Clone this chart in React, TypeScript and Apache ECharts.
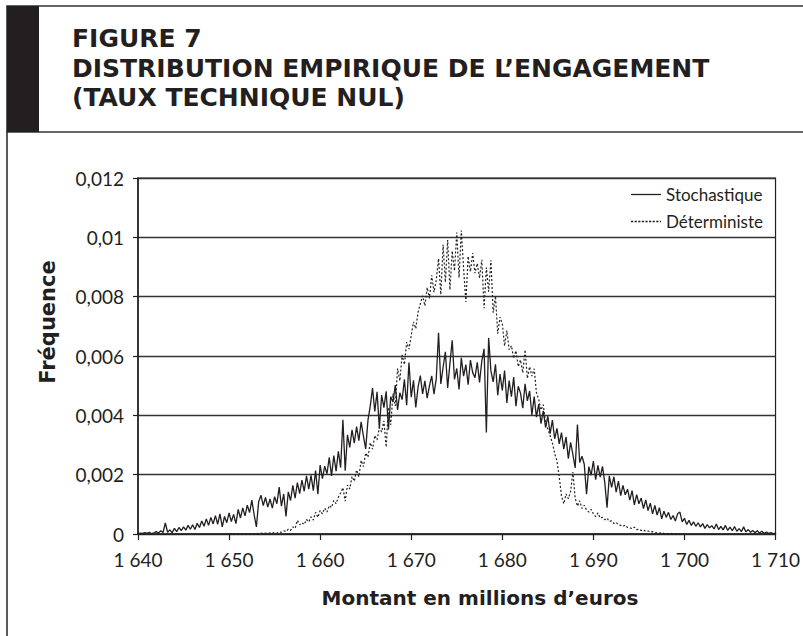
import React, { useEffect, useRef } from "react";
import * as echarts from "echarts";

const TITLE_LINES = [
  "FIGURE 7",
  "DISTRIBUTION EMPIRIQUE DE L’ENGAGEMENT",
  "(TAUX TECHNIQUE NUL)",
];
const X_NAME = "Montant en millions d’euros";
const Y_NAME = "Fréquence";
const SERIES_NAMES = ["Stochastique", "Déterministe"];

const X_MIN = 1640;
const X_MAX = 1710;
const X_INTERVAL = 10;
const Y_MIN = 0;
const Y_MAX = 0.012;
const Y_INTERVAL = 0.002;

// Stochastique : x = 1640, 1640.25, ... 1710
const STOCH_START = 1640;
const STOCH_STEP = 0.25;
const stochastique = [
  0.00001, 0.00003, 0.00002, 0.00005,
  0.00002, 0.00006, 0.00001, 0.00004,
  0.00008, 0.00003, 0.00011, 0.00005,
  0.00037, 0.00006, 0.00014, 0.00004,
  0.00019, 0.00008, 0.00022, 0.00011,
  0.00024, 0.00013, 0.00029, 0.00016,
  0.00031, 0.00015, 0.00036, 0.00022,
  0.00044, 0.00026, 0.00051, 0.00029,
  0.00056, 0.00034, 0.00062, 0.00033,
  0.00068, 0.00024, 0.00059, 0.00038,
  0.00071, 0.00042, 0.00066, 0.00035,
  0.00083, 0.00054, 0.00088, 0.00061,
  0.00097, 0.00072, 0.00114, 0.00065,
  0.00024, 0.00109, 0.00131, 0.00096,
  0.00123, 0.00091, 0.00118, 0.00087,
  0.00126, 0.00102, 0.00158, 0.00094,
  0.00135, 0.00059, 0.00142, 0.00113,
  0.00164, 0.00121, 0.00173, 0.00136,
  0.00182, 0.00144, 0.00196, 0.00151,
  0.00198, 0.00146, 0.00214, 0.00134,
  0.00232, 0.00187, 0.00229, 0.00203,
  0.00258, 0.00196, 0.00264, 0.00212,
  0.00279, 0.00224, 0.00385, 0.00213,
  0.00334, 0.00292, 0.00351, 0.00306,
  0.00362, 0.00315, 0.00378, 0.0033,
  0.00287, 0.00384, 0.00431, 0.00492,
  0.00413, 0.00479, 0.00356, 0.00468,
  0.00426, 0.00481, 0.00352, 0.00463,
  0.00445, 0.00502, 0.00418, 0.00476,
  0.00453, 0.00521, 0.00434, 0.00578,
  0.00461, 0.00518, 0.00427, 0.00495,
  0.00534, 0.00472, 0.00516, 0.00458,
  0.00499, 0.00533, 0.00471, 0.00524,
  0.00678, 0.00506, 0.00562, 0.00614,
  0.00492, 0.00575, 0.00653, 0.00521,
  0.00558, 0.00487, 0.00594, 0.00532,
  0.00571, 0.00503, 0.00586, 0.00544,
  0.00527, 0.00579, 0.00511, 0.00583,
  0.00624, 0.00342, 0.00661, 0.0055,
  0.00513, 0.00572, 0.00468, 0.00539,
  0.00484, 0.00551, 0.00442, 0.00517,
  0.00463, 0.00529, 0.00431, 0.00498,
  0.00475, 0.00424, 0.00506, 0.00449,
  0.00482, 0.00401, 0.00463, 0.00394,
  0.00438, 0.00372, 0.00415, 0.00359,
  0.00397, 0.00338, 0.00384, 0.00321,
  0.00356, 0.00304, 0.00342, 0.00286,
  0.00327, 0.00254, 0.00309, 0.00268,
  0.00223, 0.00369, 0.00241, 0.00262,
  0.00235, 0.00134, 0.00227, 0.00198,
  0.00246, 0.00183, 0.00231, 0.00192,
  0.00228, 0.00174, 0.00089, 0.00196,
  0.00157, 0.00193, 0.00141, 0.00178,
  0.00129, 0.00164, 0.00132, 0.00151,
  0.00114, 0.00146, 0.00098, 0.00133,
  0.00102, 0.00121, 0.00086, 0.00115,
  0.00079, 0.00104, 0.00068, 0.00096,
  0.00064, 0.00089, 0.00051, 0.00077,
  0.00056, 0.00073, 0.00049, 0.00062,
  0.00044, 0.00068, 0.00074, 0.00041,
  0.00053, 0.00032, 0.00046, 0.00029,
  0.00041, 0.00026, 0.00038, 0.00024,
  0.00035, 0.00019, 0.00032, 0.00021,
  0.00028, 0.00017, 0.00034, 0.00015,
  0.00026, 0.00014, 0.00029, 0.00012,
  0.00023, 0.00011, 0.00025, 0.00009,
  0.00018, 0.00008, 0.00024, 0.00007,
  0.00015, 0.00006, 0.00012, 0.00004,
  0.00011, 0.00003, 0.00009, 0.00002,
  0.00007, 0.00002, 0.00005, 0.00001,
  0.00003,
];

// Déterministe : x = 1650, 1650.25, ... 1700
const DET_START = 1650;
const DET_STEP = 0.25;
const deterministe = [
  0, 0, 0.00001, 0,
  0, 0.00001, 0, 0.00001,
  0.00001, 0, 0.00002, 0.00001,
  0.00002, 0.00001, 0.00003, 0.00001,
  0.00003, 0.00002, 0.00004, 0.00003,
  0.00005, 0.00003, 0.00007, 0.00006,
  0.00011, 0.00008, 0.00016, 0.00012,
  0.00024, 0.00019, 0.00046, 0.00031,
  0.00038, 0.00032, 0.00049, 0.00041,
  0.00058, 0.00047, 0.00073, 0.00056,
  0.00079, 0.00068, 0.00087, 0.00074,
  0.00096, 0.00089, 0.00113, 0.00102,
  0.00124, 0.00138, 0.00156, 0.00111,
  0.00165, 0.00152, 0.00194, 0.00178,
  0.00216, 0.00193, 0.00248, 0.00227,
  0.00273, 0.00259, 0.00308, 0.00286,
  0.00332, 0.00317, 0.00359, 0.00344,
  0.00381, 0.00293, 0.00427, 0.00368,
  0.00473, 0.00432, 0.00558, 0.00516,
  0.00604, 0.00571, 0.00647, 0.00623,
  0.00669, 0.00715, 0.00692, 0.00748,
  0.00776, 0.00803, 0.00769, 0.00831,
  0.00794, 0.00872, 0.00815, 0.00856,
  0.00928, 0.00807, 0.00976, 0.00849,
  0.00991, 0.00823, 0.00954, 0.00887,
  0.01016, 0.00864, 0.01023, 0.00895,
  0.00782, 0.00936, 0.00884, 0.00947,
  0.00879, 0.00912, 0.00863, 0.00924,
  0.00761, 0.00898, 0.00817, 0.00923,
  0.00746, 0.00802, 0.00675, 0.00731,
  0.00708, 0.00634, 0.00686, 0.00621,
  0.00635, 0.00592, 0.00618, 0.00564,
  0.00587, 0.00543, 0.00621, 0.00525,
  0.00564, 0.00532, 0.00557, 0.00476,
  0.00453, 0.00418, 0.00436, 0.00372,
  0.00354, 0.00331, 0.00307, 0.00272,
  0.00246, 0.00193, 0.00128, 0.00102,
  0.00135, 0.00119, 0.00143, 0.00209,
  0.00121, 0.00094, 0.00112, 0.00086,
  0.00097, 0.00081, 0.00074, 0.00083,
  0.00068, 0.00059, 0.00071, 0.00054,
  0.00056, 0.00048, 0.00053, 0.00042,
  0.00044, 0.00036, 0.00039, 0.00031,
  0.00029, 0.00026, 0.0003, 0.00022,
  0.00021, 0.00018, 0.00023, 0.00015,
  0.00016, 0.00012, 0.00014, 0.00009,
  0.0001, 0.00007, 0.00008, 0.00005,
  0.00004, 0.00003, 0.00004, 0.00002,
  0.00001, 0.00001, 0.00002, 0,
  0, 0.00001, 0, 0,
  0,
];

const INK = "#231f20";
const REG = "Lato, 'Noto Sans', sans-serif";
const BOLD = "'DejaVu Sans', 'Noto Sans', sans-serif";

// legend samples: a thin solid bar and a row of short dashes
const SOLID_ICON = "path://M0,0H30V1.3H0Z";
const DOTTED_ICON =
  "path://M0,0H2.2V1.3H0Z M3.6,0H5.8V1.3H3.6Z M7.2,0H9.4V1.3H7.2Z M10.8,0H13V1.3H10.8Z M14.4,0H16.6V1.3H14.4Z M18,0H20.2V1.3H18Z M21.6,0H23.8V1.3H21.6Z M25.2,0H27.4V1.3H25.2Z M28.8,0H30V1.3H28.8Z";

export default function App() {
  const ref = useRef<HTMLDivElement>(null);

  useEffect(() => {
    if (!ref.current) return;
    const chart = echarts.init(ref.current, null, { renderer: "svg" });

    const stochData = stochastique.map((v, i) => [STOCH_START + i * STOCH_STEP, v]);
    const detData = deterministe.map((v, i) => [DET_START + i * DET_STEP, v]);

    const titleCenters = [38.5, 68.5, 97.5];

    chart.setOption({
      animation: false,
      backgroundColor: "#ffffff",
      grid: {
        left: 138,
        right: 23,
        top: 178,
        bottom: 102,
        containLabel: false,
        show: true,
        borderColor: INK,
        borderWidth: 1.2,
      },
      legend: {
        data: [
          { name: SERIES_NAMES[0], icon: SOLID_ICON },
          { name: SERIES_NAMES[1], icon: DOTTED_ICON },
        ],
        orient: "vertical",
        right: 40,
        top: 186,
        padding: 0,
        itemWidth: 30,
        itemHeight: 12,
        itemGap: 10,
        align: "left",
        symbolKeepAspect: true,
        itemStyle: { color: INK, borderWidth: 0 },
        textStyle: { fontFamily: REG, fontSize: 17, color: INK },
      },
      xAxis: {
        type: "value",
        min: X_MIN,
        max: X_MAX,
        interval: X_INTERVAL,
        axisLine: { show: true, lineStyle: { color: INK, width: 1.5 } },
        axisTick: { show: true, length: 6, lineStyle: { color: INK, width: 1.2 } },
        axisLabel: {
          fontFamily: REG,
          fontSize: 19,
          color: INK,
          margin: 16,
          formatter: (v: number) =>
            `${Math.floor(v / 1000)} ${String(Math.round(v % 1000)).padStart(3, "0")}`,
        },
        splitLine: { show: false },
      },
      yAxis: {
        type: "value",
        min: Y_MIN,
        max: Y_MAX,
        interval: Y_INTERVAL,
        axisLine: { show: true, lineStyle: { color: INK, width: 1.5 } },
        axisTick: { show: true, length: 5, lineStyle: { color: INK, width: 1.2 } },
        axisLabel: {
          fontFamily: REG,
          fontSize: 19,
          color: INK,
          margin: 14,
          formatter: (v: number) => String(+v.toFixed(3)).replace(".", ","),
        },
        splitLine: { show: true, lineStyle: { color: "#333333", width: 1.3 } },
      },
      series: [
        {
          name: SERIES_NAMES[0],
          type: "line",
          data: stochData,
          symbol: "none",
          showSymbol: false,
          z: 3,
          lineStyle: { color: INK, width: 1.3 },
          itemStyle: { color: INK },
        },
        {
          name: SERIES_NAMES[1],
          type: "line",
          data: detData,
          symbol: "none",
          showSymbol: false,
          z: 2,
          lineStyle: { color: "#222222", width: 1.2, type: [2, 2] },
          itemStyle: { color: "#222222" },
        },
      ],
      graphic: [
        {
          type: "rect",
          shape: { x: 7, y: 6, width: 820, height: 126 },
          style: { fill: "none", stroke: "#333333", lineWidth: 1.6 },
          z: 10,
        },
        {
          type: "rect",
          shape: { x: 7, y: 6, width: 32, height: 126 },
          style: { fill: INK },
          z: 11,
        },
        {
          type: "line",
          shape: { x1: 7, y1: 132, x2: 7, y2: 640 },
          style: { stroke: "#333333", lineWidth: 1.6 },
          z: 10,
        },
        ...TITLE_LINES.map((t, i) => ({
          type: "text",
          x: 72,
          y: titleCenters[i],
          z: 12,
          style: {
            text: t,
            font: `bold 25px ${BOLD}`,
            fill: INK,
            textAlign: "left",
            verticalAlign: "middle",
          },
        })),
        {
          type: "text",
          x: 48,
          y: 322,
          rotation: Math.PI / 2,
          z: 12,
          style: {
            text: Y_NAME,
            font: `bold 21px ${BOLD}`,
            fill: INK,
            textAlign: "center",
            verticalAlign: "middle",
          },
        },
        {
          type: "text",
          x: 480,
          y: 598,
          z: 12,
          style: {
            text: X_NAME,
            font: `bold 20px ${BOLD}`,
            fill: INK,
            textAlign: "center",
            verticalAlign: "middle",
          },
        },
      ],
    });

    return () => chart.dispose();
  }, []);

  return (
    <div
      ref={ref}
      style={{
        position: "fixed",
        left: 0,
        top: 0,
        width: 803,
        height: 636,
        background: "#ffffff",
      }}
    />
  );
}
